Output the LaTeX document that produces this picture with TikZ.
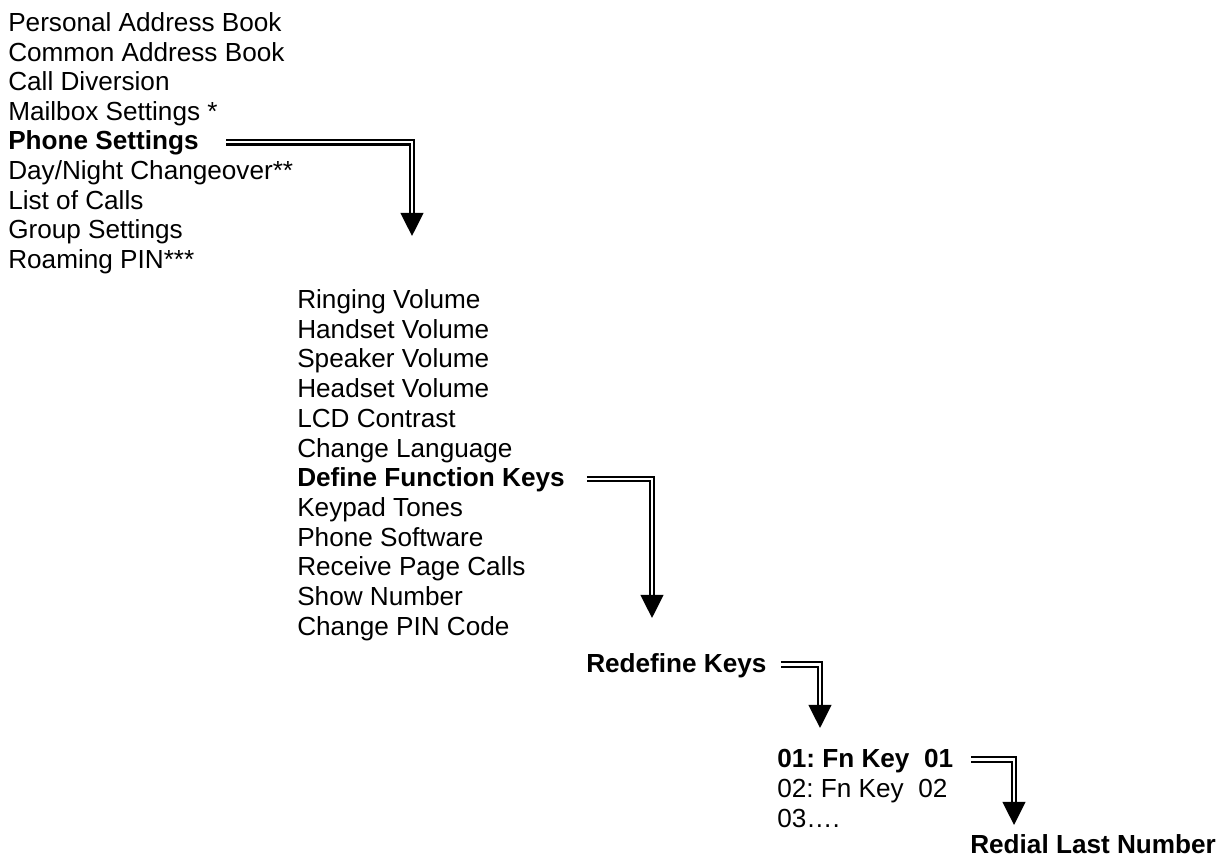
\documentclass[tikz,border=0pt]{standalone}
\usepackage{fontspec}
\setmainfont{Liberation Sans}
\usepackage{tikz}
\usetikzlibrary{arrows.meta}
\frenchspacing

\begin{document}
\begin{tikzpicture}[x=0.025cm, y=-0.025cm,
    item/.style={anchor=base west, inner sep=0pt, text height=13.7pt, text depth=2.8pt, font=\fontsize{18.6pt}{22pt}\selectfont},
    pick/.style={item, font=\fontsize{18.6pt}{22pt}\selectfont\bfseries},
    dblarrow/.style={draw=black, line width=1.5pt, double=white, double distance=1.7pt, -{Triangle[width=0.57cm, length=0.58cm]}}]

\useasboundingbox (0,0) rectangle (1227,859);

% Main menu (left column)
\node[item] (m1) at (8, 31.5) {Personal Address Book};
\node[item] (m2) at (8, 61.1) {Common Address Book};
\node[item] (m3) at (8, 90.7) {Call Diversion};
\node[item] (m4) at (8, 120.3) {Mailbox Settings *};
\node[pick] (m5) at (8, 149.9) {Phone Settings};
\node[item] (m6) at (8, 179.5) {Day/Night Changeover**};
\node[item] (m7) at (8, 209.1) {List of Calls};
\node[item] (m8) at (8, 238.7) {Group Settings};
\node[item] (m9) at (8, 268.3) {Roaming PIN***};

% Phone Settings submenu
\node[item] (s1) at (297, 308.5) {Ringing Volume};
\node[item] (s2) at (297, 338.2) {Handset Volume};
\node[item] (s3) at (297, 367.9) {Speaker Volume};
\node[item] (s4) at (297, 397.6) {Headset Volume};
\node[item] (s5) at (297, 427.3) {LCD Contrast};
\node[item] (s6) at (297, 457.0) {Change Language};
\node[pick] (s7) at (297, 486.7) {Define Function Keys};
\node[item] (s8) at (297, 516.4) {Keypad Tones};
\node[item] (s9) at (297, 546.1) {Phone Software};
\node[item] (s10) at (297, 575.8) {Receive Page Calls};
\node[item] (s11) at (297, 605.5) {Show Number};
\node[item] (s12) at (297, 635.2) {Change PIN Code};

% Define Function Keys submenu
\node[pick] (redef) at (586, 672) {Redefine Keys};

% Key list
\node[pick] (k1) at (777, 767) {01: Fn Key\ \ 01};
\node[item] (k2) at (777, 797) {02: Fn Key\ \ 02};
\node[item] (k3) at (777, 827) {03….};

% Function of key 01
\node[pick] (redial) at (970, 853.5) {Redial Last Number};

% Arrow ends
\coordinate (tip1) at (412, 236);
\coordinate (tip2) at (652, 618);
\coordinate (tip3) at (820, 728);
\coordinate (tip4) at (1014, 825);

% Double-line arrows
\draw[dblarrow, shorten <=0.68cm] (m5.east) -| (tip1);
\draw[dblarrow, shorten <=0.55cm] (s7.east) -| (tip2);
\draw[dblarrow, shorten <=0.35cm] (redef.east) -| (tip3);
\draw[dblarrow, shorten <=0.45cm] (k1.east) -| (tip4);

\end{tikzpicture}
\end{document}
